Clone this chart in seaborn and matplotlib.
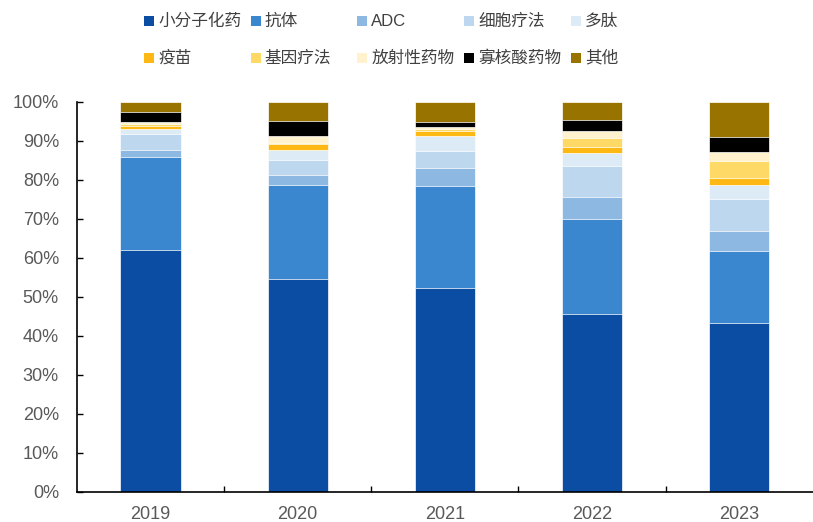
import numpy as np
import pandas as pd
import matplotlib.pyplot as plt
import seaborn as sns
from matplotlib.patches import Rectangle
from matplotlib.ticker import FixedLocator

sns.set_style('white')
plt.rcParams['font.family'] = ['Liberation Sans', 'Noto Sans CJK SC', 'DejaVu Sans']

years = ['2019', '2020', '2021', '2022', '2023']

# share of each modality, %
small_molecule = [62.0, 54.6, 52.3, 45.6, 43.3]
antibody = [23.9, 24.1, 26.2, 24.4, 18.5]
adc = [1.8, 2.6, 4.5, 5.7, 5.2]
cell_therapy = [4.1, 3.8, 4.4, 7.9, 8.2]
peptide = [1.3, 2.6, 3.9, 3.3, 3.5]
vaccine = [0.7, 1.5, 1.3, 1.6, 1.7]
gene_therapy = [0.5, 0.4, 0.6, 2.3, 4.5]
radiopharm = [0.5, 1.7, 0.4, 1.8, 2.3]
oligo = [2.6, 3.9, 1.3, 2.8, 3.8]
other = [2.6, 4.8, 5.1, 4.6, 9.0]

names = ['小分子化药', '抗体', 'ADC', '细胞疗法', '多肽',
         '疫苗', '基因疗法', '放射性药物', '寡核酸药物', '其他']
series = [small_molecule, antibody, adc, cell_therapy, peptide,
          vaccine, gene_therapy, radiopharm, oligo, other]
colors = ['#0B4DA2', '#3A87CF', '#8DB8E2', '#BDD7EE', '#DDEBF7',
          '#FDB813', '#FFD966', '#FFF2CC', '#000000', '#997300']

df = pd.DataFrame({n: s for n, s in zip(names, series)}, index=years)
cum = df.cumsum(axis=1)

fig = plt.figure(figsize=(8.13, 5.22), dpi=100)
ax = fig.add_axes([0.0947, 0.058, 0.905, 0.7466])

# draw cumulative totals from the top down so each layer covers the next
for n, c in zip(names[::-1], colors[::-1]):
    sns.barplot(x=years, y=cum[n].values, color=c, saturation=1, width=0.41,
                edgecolor='white', linewidth=0.5, ax=ax)

ax.set_ylim(0, 100)
ax.set_xlim(-0.5, 4.5)
ax.set_yticks(np.arange(0, 101, 10))
ax.set_yticklabels([f'{v}%' for v in range(0, 101, 10)])
ax.xaxis.set_minor_locator(FixedLocator([0.5, 1.5, 2.5, 3.5]))
ax.tick_params(axis='y', direction='in', length=4, width=1, color='black',
               labelsize=13, labelcolor='#595959', pad=13, left=True)
ax.tick_params(axis='x', which='major', length=0, labelsize=13,
               labelcolor='#595959', pad=10)
ax.tick_params(axis='x', which='minor', direction='in', length=4, width=1,
               color='black', bottom=True)
for side in ['top', 'right']:
    ax.spines[side].set_visible(False)
for side in ['left', 'bottom']:
    ax.spines[side].set_color('black')
    ax.spines[side].set_linewidth(1.2)
ax.set_xlabel('')
ax.set_ylabel('')

# legend laid out on a fixed grid like the original
W, H = 813, 522
for i, (n, c) in enumerate(zip(names, colors)):
    row, col = divmod(i, 5)
    x0 = 144 + col * 106.7
    yc = 21 + row * 37
    fig.add_artist(Rectangle((x0 / W, 1 - (yc + 5) / H), 10 / W, 10 / H,
                             transform=fig.transFigure, facecolor=c,
                             edgecolor='none'))
    fig.text((x0 + 14) / W, 1 - yc / H, n, fontsize=12, color='#404040',
             va='center', ha='left')

fig.savefig('out.png', dpi=100)
